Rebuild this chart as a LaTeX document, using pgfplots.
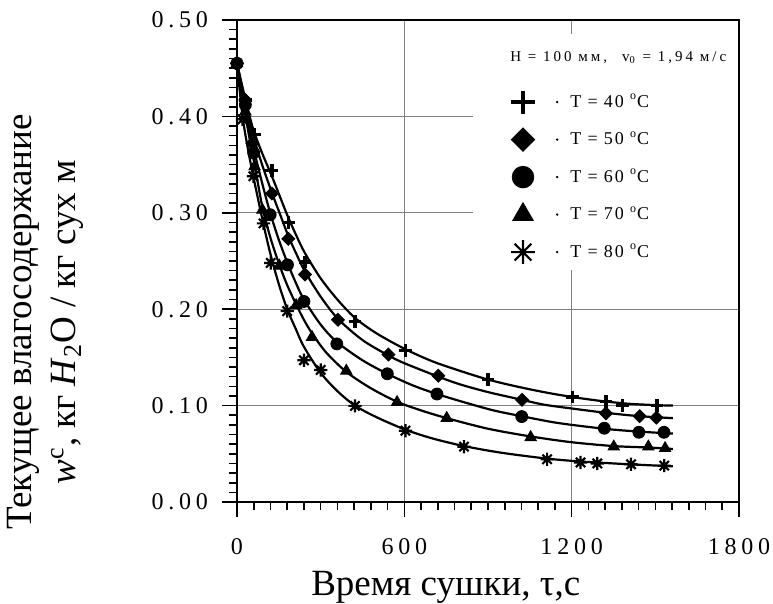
\documentclass[border=0pt]{standalone}
\usepackage{fontspec}
\setmainfont{Liberation Serif}
\newfontfamily\spaced[LetterSpace=20]{Liberation Serif}
\newfontfamily\legspaced[LetterSpace=10]{Liberation Serif}
\usepackage{pgfplots}
\pgfplotsset{compat=1.18}

\pgfdeclareplotmark{star8}{%
  \pgfpathmoveto{\pgfqpoint{0pt}{\pgfplotmarksize}}\pgfpathlineto{\pgfqpoint{0pt}{-\pgfplotmarksize}}%
  \pgfpathmoveto{\pgfqpoint{\pgfplotmarksize}{0pt}}\pgfpathlineto{\pgfqpoint{-\pgfplotmarksize}{0pt}}%
  \pgfpathmoveto{\pgfqpoint{0.707\pgfplotmarksize}{0.707\pgfplotmarksize}}\pgfpathlineto{\pgfqpoint{-0.707\pgfplotmarksize}{-0.707\pgfplotmarksize}}%
  \pgfpathmoveto{\pgfqpoint{-0.707\pgfplotmarksize}{0.707\pgfplotmarksize}}\pgfpathlineto{\pgfqpoint{0.707\pgfplotmarksize}{-0.707\pgfplotmarksize}}%
  \pgfusepathqstroke}

\pgfplotsset{
  mylegend/.style={legend image code/.code={%
    \draw[mark repeat=2,mark phase=2,##1,/tikz/every mark/.append style={scale=1.8}]
      plot coordinates {(0cm,0cm) (0.3cm,0cm) (0.6cm,0cm)};
    \fill[black] (0.9cm,0cm) circle (0.35pt);}},
  curve/.style={black, line width=1.1pt, smooth, no marks, forget plot},
}

\begin{document}
\begin{tikzpicture}
\begin{axis}[
  scale only axis, width=251pt, height=241pt,
  xmin=0, xmax=1800, ymin=0, ymax=0.5,
  xtick={0,600,1200,1800}, ytick={0,0.1,0.2,0.3,0.4,0.5},
  minor x tick num=9, minor y tick num=9,
  tick align=outside, tick pos=left,
  major tick length=7.5pt, minor tick length=4pt,
  every tick/.style={black, line width=0.8pt},
  grid=major, major grid style={gray, line width=0.6pt},
  axis line style={line width=1pt},
  /pgf/number format/assume math mode=true,
  tick label style={font=\spaced\fontsize{12}{14}\selectfont},
  yticklabel style={/pgf/number format/.cd, fixed, fixed zerofill, precision=2, /tikz/.cd, xshift=-3.5pt},
  xticklabel style={/pgf/number format/1000 sep={}, yshift=-7pt},
  xlabel={Время сушки, τ,с},
  xlabel style={font=\fontsize{18.5}{22}\selectfont, at={(ticklabel cs:0.416)}, yshift=-1.5pt},
  ylabel={Текущее влагосодержание\\\textit{w}\textsuperscript{c}, кг \textit{H}\textsubscript{2}O / кг сух м},
  ylabel style={font=\fontsize{18.5}{22}\selectfont, align=center, at={(ticklabel cs:0.373,27pt)}},
  legend style={at={(axis cs:960,0.432)}, anchor=north west, draw=none, fill=none,
    font=\legspaced\fontsize{9}{10}\selectfont, row sep=6.6pt, legend cell align=left,
    /tikz/every odd column/.append style={column sep=4pt}},
]
\fill[white] (axis cs:846,0.2407) rectangle (axis cs:1795,0.4855);
\node[anchor=west, font=\spaced\fontsize{7.5}{9}\selectfont] at (axis cs:955,0.4606)
  {H = 100 мм,\quad v\textsubscript{0} = 1,94 м/с};

% fitted curves
\addplot[curve] coordinates {(0,0.455)(20,0.430)(40,0.406)(60,0.385)(90,0.362)(125,0.338)(155,0.316)(184,0.295)(215,0.275)(244,0.258)(300,0.232)(360,0.210)(423,0.191)(500,0.175)(600,0.159)(700,0.146)(800,0.136)(900,0.127)(1000,0.120)(1100,0.114)(1200,0.109)(1300,0.105)(1400,0.102)(1500,0.1005)(1563,0.100)};
\addplot[curve] coordinates {(0,0.455)(20,0.428)(40,0.402)(60,0.378)(90,0.350)(125,0.321)(155,0.298)(184,0.276)(215,0.256)(244,0.239)(300,0.213)(362,0.190)(450,0.168)(543,0.152)(600,0.144)(722,0.130)(800,0.122)(900,0.114)(1022,0.106)(1100,0.101)(1200,0.097)(1323,0.0925)(1444,0.089)(1563,0.087)};
\addplot[curve] coordinates {(0,0.455)(20,0.424)(40,0.394)(60,0.366)(90,0.331)(119,0.300)(150,0.272)(181,0.248)(210,0.228)(240,0.210)(300,0.184)(358,0.166)(450,0.147)(539,0.133)(630,0.121)(717,0.112)(820,0.103)(920,0.095)(1021,0.089)(1150,0.082)(1317,0.076)(1441,0.073)(1563,0.071)};
\addplot[curve] coordinates {(0,0.455)(20,0.420)(40,0.385)(63,0.350)(91,0.306)(120,0.274)(152,0.246)(180,0.225)(212,0.205)(240,0.189)(269,0.175)(320,0.155)(392,0.135)(480,0.118)(574,0.104)(660,0.095)(752,0.087)(900,0.076)(1053,0.068)(1200,0.062)(1351,0.058)(1475,0.0565)(1563,0.055)};
\addplot[curve] coordinates {(0,0.455)(20,0.400)(40,0.365)(59,0.337)(95,0.288)(121,0.256)(150,0.226)(180,0.200)(210,0.180)(240,0.161)(300,0.134)(360,0.115)(423,0.100)(500,0.088)(604,0.075)(700,0.066)(814,0.058)(950,0.051)(1112,0.045)(1232,0.042)(1350,0.040)(1450,0.0385)(1563,0.037)};

% measured points
\addplot[only marks, mark=+, mark size=3.2pt, mark options={line width=1.7pt}, mylegend] coordinates {(0,0.455)(30,0.417)(62,0.381)(125,0.344)(184,0.290)(244,0.249)(423,0.187)(604,0.157)(900,0.127)(1202,0.109)(1323,0.104)(1383,0.100)(1506,0.100)};
\addlegendentry{T = 40 \textsuperscript{o}C}
\addplot[only marks, mark=square*, mark size=2.3pt, mark options={rotate=45, fill=black}, mylegend] coordinates {(0,0.455)(30,0.417)(55,0.372)(125,0.320)(184,0.273)(244,0.236)(362,0.189)(543,0.153)(722,0.131)(1022,0.106)(1323,0.092)(1444,0.089)(1504,0.0875)};
\addlegendentry{T = 50 \textsuperscript{o}C}
\addplot[only marks, mark=*, mark size=3pt, mark options={fill=black}, mylegend] coordinates {(0,0.455)(30,0.412)(60,0.362)(119,0.298)(181,0.246)(240,0.208)(358,0.164)(539,0.133)(717,0.112)(1021,0.0886)(1317,0.0765)(1441,0.0723)(1531,0.0723)};
\addlegendentry{T = 60 \textsuperscript{o}C}
\addplot[only marks, mark=triangle*, mark size=3.3pt, mark options={fill=black}, mylegend] coordinates {(0,0.455)(30,0.405)(63,0.348)(91,0.303)(152,0.245)(212,0.204)(269,0.171)(392,0.136)(574,0.1035)(752,0.087)(1053,0.0671)(1351,0.0574)(1475,0.0574)(1535,0.0557)};
\addlegendentry{T = 70 \textsuperscript{o}C}
\addplot[only marks, mark=star8, mark size=3.3pt, mark options={line width=1.1pt}, mylegend] coordinates {(0,0.455)(20,0.397)(59,0.338)(95,0.289)(121,0.248)(180,0.198)(240,0.147)(300,0.137)(423,0.0997)(604,0.074)(814,0.0574)(1112,0.0443)(1232,0.041)(1292,0.040)(1413,0.0391)(1532,0.0377)};
\addlegendentry{T = 80 \textsuperscript{o}C}
\end{axis}
\pgfresetboundingbox
\useasboundingbox (-118.5pt,-51pt) rectangle (268pt,251pt);
\end{tikzpicture}
\end{document}
